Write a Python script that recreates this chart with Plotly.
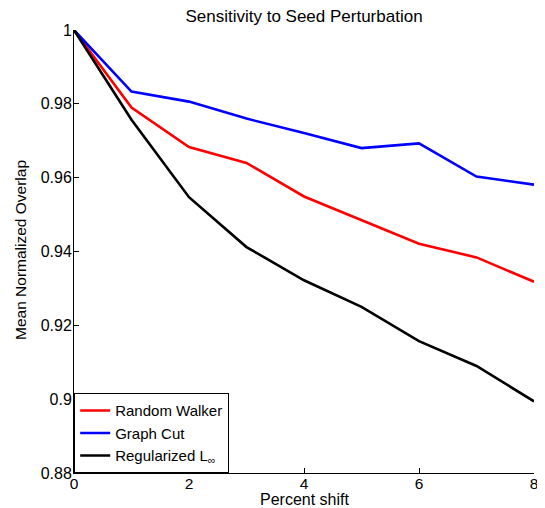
import plotly.graph_objects as go

x_shift = [0, 1, 2, 3, 4, 5, 6, 7, 8]
random_walker = [1.0, 0.979, 0.9683, 0.9640, 0.9549, 0.9486, 0.9421, 0.9384, 0.9318]
graph_cut = [1.0, 0.9833, 0.9806, 0.9760, 0.9721, 0.9680, 0.9693, 0.9603, 0.9581]
regularized = [1.0, 0.9757, 0.9547, 0.9412, 0.9322, 0.9250, 0.9157, 0.9090, 0.8994]

y_ticks = [0.88, 0.9, 0.92, 0.94, 0.96, 0.98, 1.0]
y_tick_text = ["0.88", "0.9", "0.92", "0.94", "0.96", "0.98", "1"]
x_ticks = [0, 2, 4, 6, 8]

fig = go.Figure()
fig.add_trace(go.Scatter(x=x_shift, y=random_walker, mode="lines", name="Random Walker",
                         line=dict(color="#ff0000", width=2.6)))
fig.add_trace(go.Scatter(x=x_shift, y=graph_cut, mode="lines", name="Graph Cut",
                         line=dict(color="#0000ff", width=2.6)))
fig.add_trace(go.Scatter(x=x_shift, y=regularized, mode="lines", name="Regularized L<sub>∞</sub>",
                         line=dict(color="#000000", width=2.6)))

# The page body has an 8px default margin, so the figure is sized 8px smaller.
W, H = 537, 500
ML, MR, MT, MB = 66, 11, 22, 35
PW, PH = W - ML - MR, H - MT - MB

font_family = "Liberation Sans, Arial, sans-serif"
fig.update_layout(
    width=W, height=H,
    margin=dict(l=ML, r=MR, t=MT, b=MB),
    paper_bgcolor="white", plot_bgcolor="white",
    font=dict(family=font_family, size=16, color="black"),
    title=dict(text="Sensitivity to Seed Perturbation", x=296 / W, xanchor="center",
               y=1 - 8 / H, yanchor="middle", font=dict(size=17)),
    showlegend=True,
    legend=dict(x=0, y=0, xanchor="left", yanchor="bottom", bgcolor="white",
                bordercolor="black", borderwidth=1.2, font=dict(size=15),
                tracegroupgap=0, itemwidth=30),
    xaxis=dict(range=[0, 8], tickvals=x_ticks, showgrid=False, zeroline=False,
               showline=True, linecolor="black", linewidth=1, ticks="inside", ticklen=5,
               tickcolor="black", automargin=False, ticklabelstandoff=-4,
               tickfont=dict(size=15.5)),
    yaxis=dict(range=[0.88, 1.0], tickvals=y_ticks, ticktext=y_tick_text,
               showgrid=False, zeroline=False, showline=True, linecolor="black", linewidth=1,
               ticks="inside", ticklen=5, tickcolor="black", automargin=False,
               ticklabelstandoff=-2),
    annotations=[
        dict(text="Percent shift", xref="paper", yref="paper", x=(296 - ML) / PW,
             y=-26 / PH, xanchor="center", yanchor="middle", showarrow=False,
             font=dict(size=16)),
        dict(text="Mean Normalized Overlap", xref="paper", yref="paper",
             x=(12 - ML) / PW, y=(PH + MT - 242) / PH, xanchor="center", yanchor="middle",
             textangle=-90, showarrow=False, font=dict(size=15.5)),
    ],
)
fig.write_html("out.html")
